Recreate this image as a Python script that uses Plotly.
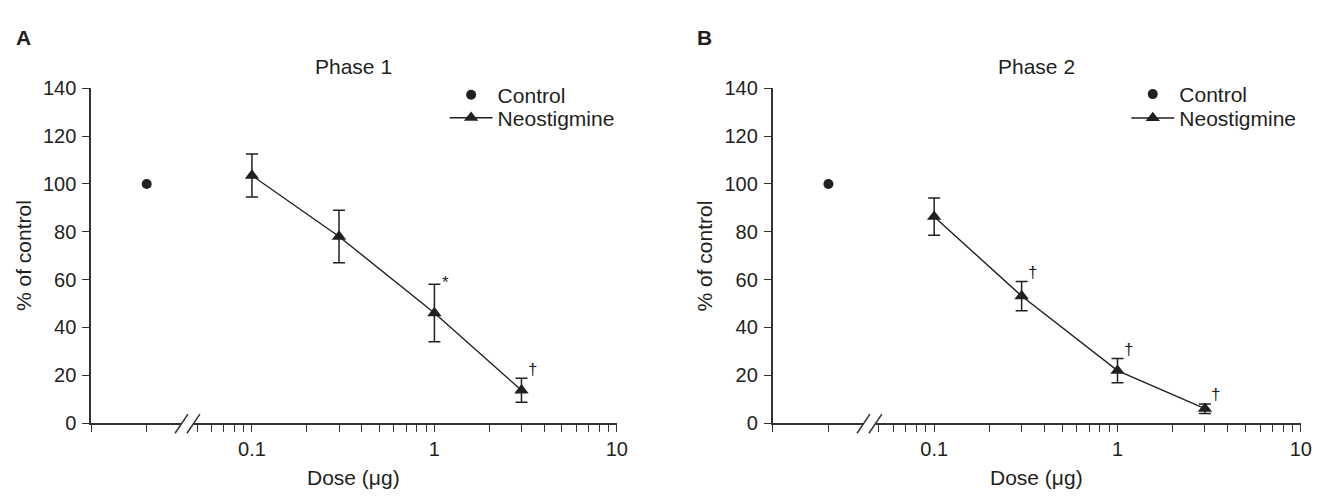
import math
import plotly.graph_objects as go

# ---------------- data ----------------
doses = [0.1, 0.3, 1, 3]
phase1_mean = [103.5, 78, 46, 13.7]
phase1_err = [9, 11, 12, 5]
phase1_sig = ["", "", "*", "†"]
phase2_mean = [86.3, 53.1, 21.9, 6.0]
phase2_err = [7.8, 6.1, 5.1, 2.0]
phase2_sig = ["", "†", "†", "†"]
control_value = [100]
control_pos = [0.0265]   # position of the control point left of the axis break

y_ticks = [0, 20, 40, 60, 80, 100, 120, 140]
x_label_ticks = [0.1, 1, 10]
panel_titles = ["Phase 1", "Phase 2"]
panel_letters = ["A", "B"]

# ---------------- layout geometry ----------------
# the page body has an 8 px default margin; all positions below are given in
# window pixels and converted to figure-paper coordinates.
OFF = 8
W, H = 1325 - OFF, 499 - OFF
FONT = "Liberation Sans"
INK = "#231f20"
AX = "#333333"


def px(x):
    return (x - OFF) / W


def py(y):
    return 1 - (y - OFF) / H


xdomA = [px(91.8), px(622)]
xdomB = [px(779), px(1311.7)]
ydom = [py(431), py(80.5)]
xrange_log = [-1.8815, 1.0]

# x tick positions (log axis with break)
x_tickvals = [10 ** -1.88, control_pos[0]] + [0.05, 0.06, 0.07, 0.08, 0.09]
for dec in [0.1, 1]:
    x_tickvals += [dec * k for k in range(1, 10)]
x_tickvals.append(10)
x_ticktext = []
for v in x_tickvals:
    lab = ""
    for t in x_label_ticks:
        if abs(v - t) < 1e-9:
            lab = "0.1" if t == 0.1 else str(int(t))
    x_ticktext.append(lab)

fig = go.Figure()

panels = [
    ("x", "y", ("legend", "legend2"), phase1_mean, phase1_err, phase1_sig),
    ("x2", "y2", ("legend3", "legend4"), phase2_mean, phase2_err, phase2_sig),
]

for xa, ya, legs, mean, err, sig in panels:
    fig.add_trace(go.Scatter(
        x=control_pos, y=control_value, mode="markers", name="Control",
        marker=dict(symbol="circle", size=10, color=INK),
        xaxis=xa, yaxis=ya, legend=legs[0], cliponaxis=False,
    ))
    fig.add_trace(go.Scatter(
        x=doses, y=mean, mode="lines+markers", name="Neostigmine",
        line=dict(color=INK, width=1.4),
        marker=dict(symbol="triangle-up", size=12.5, color=INK),
        error_y=dict(type="data", array=err, visible=True, thickness=1.5,
                     width=6, color=INK),
        xaxis=xa, yaxis=ya, legend=legs[1], cliponaxis=False,
    ))
    for d, m, e, s in zip(doses, mean, err, sig):
        if s:
            fig.add_annotation(
                x=math.log10(d), y=m + e, xref=xa, yref=ya, text=s,
                showarrow=False, xanchor="center", yanchor="middle",
                xshift=11, yshift=(9 if s == "†" else 2),
                font=dict(family=FONT, size=17, color=INK),
            )

axis_common = dict(
    showline=True, linecolor=AX, linewidth=1.5,
    ticks="outside", ticklen=7, tickwidth=1.3, tickcolor=AX,
    showgrid=False, zeroline=False,
    tickfont=dict(family=FONT, size=20, color=INK),
)

xcommon = dict(axis_common, type="log", range=xrange_log,
               tickmode="array", tickvals=x_tickvals, ticktext=x_ticktext)
ycommon = dict(axis_common, range=[0, 140], tickmode="array",
               tickvals=y_ticks, ticktext=[str(v) for v in y_ticks],
               ticklabelstandoff=2)

leg_font = dict(family=FONT, size=21, color=INK)


def leg(x_marker, y_center):
    # marker centre sits 25 px right of the legend's left edge
    return dict(x=px(x_marker - 25), y=py(y_center), xanchor="left",
                yanchor="middle", font=leg_font, itemwidth=43,
                bgcolor="rgba(0,0,0,0)", borderwidth=0)


fig.update_layout(
    width=W, height=H, autosize=False,
    margin=dict(l=0, r=0, t=0, b=0),
    paper_bgcolor="white", plot_bgcolor="white",
    font=dict(family=FONT, color=INK),
    xaxis=dict(xcommon, domain=xdomA, anchor="y"),
    yaxis=dict(ycommon, domain=ydom, anchor="x"),
    xaxis2=dict(xcommon, domain=xdomB, anchor="y2"),
    yaxis2=dict(ycommon, domain=ydom, anchor="x2"),
    legend=leg(473.3, 87.7),
    legend2=leg(473.3, 111.7),
    legend3=leg(1160.7, 87),
    legend4=leg(1160.7, 112),
    showlegend=True,
)

# panel decorations: letters, titles, axis titles, axis breaks
for i, (dom, ax0, tick01) in enumerate([(xdomA, 91.8, 254), (xdomB, 779, 941.7)]):
    cx = (dom[0] + dom[1]) / 2
    fig.add_annotation(x=px(ax0 - 78), y=py(27.5), xref="paper", yref="paper",
                       text="<b>%s</b>" % panel_letters[i], showarrow=False,
                       xanchor="left", yanchor="middle",
                       font=dict(family=FONT, size=21, color=INK))
    fig.add_annotation(x=cx, y=py(58), xref="paper", yref="paper",
                       text=panel_titles[i], showarrow=False,
                       xanchor="center", yanchor="middle",
                       font=dict(family=FONT, size=21, color=INK))
    fig.add_annotation(x=cx, y=py(488), xref="paper", yref="paper",
                       text="Dose (μg)", showarrow=False,
                       xanchor="center", yanchor="middle",
                       font=dict(family=FONT, size=21, color=INK))
    fig.add_annotation(x=px(ax0 - 68.3), y=(ydom[0] + ydom[1]) / 2,
                       xref="paper", yref="paper", text="% of control",
                       textangle=-90, showarrow=False,
                       xanchor="center", yanchor="middle",
                       font=dict(family=FONT, size=21, color=INK))
    # axis break: two slashes with a gap in the axis line between them
    b1 = tick01 - 71
    fig.add_shape(type="rect", xref="paper", yref="paper",
                  x0=px(b1), x1=px(b1 + 12), y0=py(433.5), y1=py(428.5),
                  line=dict(width=0), fillcolor="white", layer="above")
    for s in (0, 12):
        fig.add_shape(type="line", xref="paper", yref="paper",
                      x0=px(b1 - 6.5 + s), y0=py(441.7),
                      x1=px(b1 + 6.5 + s), y1=py(421.7),
                      line=dict(color=AX, width=1.5), layer="above")

fig.write_html("out.html")
